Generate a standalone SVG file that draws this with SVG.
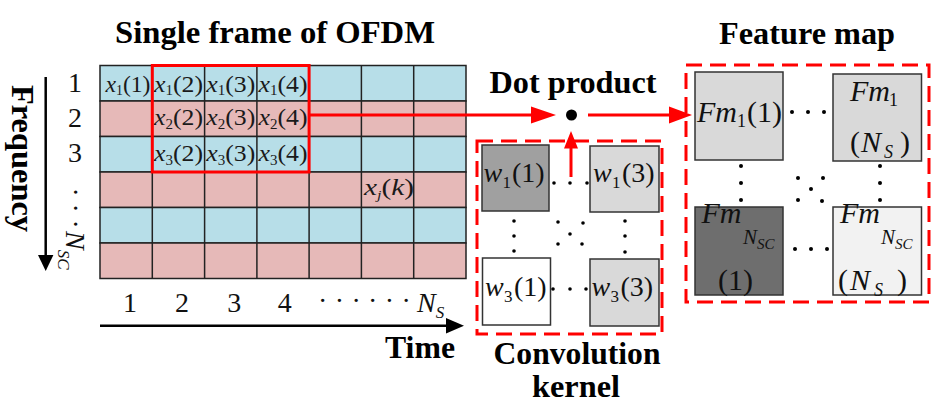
<svg xmlns="http://www.w3.org/2000/svg" width="946" height="410" viewBox="0 0 946 410">
<style>
.bold{font-family:"Liberation Serif",serif;font-weight:bold;font-size:32px;fill:#000}
.num{font-family:"Liberation Serif",serif;font-size:28px;fill:#111}
.cell{font-family:"Liberation Serif",serif;font-size:24px;fill:#1a1a1a;text-anchor:middle}
.big{font-family:"Liberation Serif",serif;font-size:28px;fill:#111}
.fm{font-family:"Liberation Serif",serif;font-size:30px;fill:#111}
.it{font-style:italic}
.blue{fill:#b7dee8;stroke:#222;stroke-width:1.5}
.pink{fill:#e6b9b8;stroke:#222;stroke-width:1.5}
.gl{stroke:#222;stroke-width:1.5}
.box{stroke:#333;stroke-width:1.5}
.dash{fill:none;stroke:#ff0000;stroke-width:3;stroke-dasharray:16 8}
.red{stroke:#ff0000;stroke-width:3;fill:none}
.redf{fill:#ff0000}
.blk{stroke:#000;stroke-width:2.5}
.dot{fill:#000}
</style>

<g id="titles">
<text class="bold" x="275" y="43" text-anchor="middle" textLength="320" lengthAdjust="spacingAndGlyphs">Single frame of OFDM</text>
<text class="bold" x="573" y="93" text-anchor="middle" textLength="167" lengthAdjust="spacingAndGlyphs">Dot product</text>
<text class="bold" x="807" y="44" text-anchor="middle" textLength="176" lengthAdjust="spacingAndGlyphs">Feature map</text>
<text class="bold" x="420" y="358" text-anchor="middle" textLength="70" lengthAdjust="spacingAndGlyphs">Time</text>
<text class="bold" x="577" y="364" text-anchor="middle" textLength="167" lengthAdjust="spacingAndGlyphs">Convolution</text>
<text class="bold" x="576" y="397" text-anchor="middle" textLength="88" lengthAdjust="spacingAndGlyphs">kernel</text>
<text class="bold" transform="translate(12,158.5) rotate(90)" text-anchor="middle" textLength="147" lengthAdjust="spacingAndGlyphs">Frequency</text>
</g>

<g id="ofdm-frame">
<rect class="blue" x="100" y="65.5" width="366" height="35.5"/>
<rect class="pink" x="100" y="101" width="366" height="35.5"/>
<rect class="blue" x="100" y="136.5" width="366" height="35.5"/>
<rect class="pink" x="100" y="172" width="366" height="35.5"/>
<rect class="blue" x="100" y="207.5" width="366" height="35.5"/>
<rect class="pink" x="100" y="243" width="366" height="35.5"/>
<path class="gl" d="M152.3 65.5V278.5M204.6 65.5V278.5M256.9 65.5V278.5M309.1 65.5V278.5M361.4 65.5V278.5M413.7 65.5V278.5"/>
<text class="cell" x="128" y="92" textLength="45" lengthAdjust="spacingAndGlyphs"><tspan class="it">x</tspan><tspan font-size="14" dy="3">1</tspan><tspan dy="-3">(1)</tspan></text>
<text class="cell" x="178.5" y="92" textLength="49" lengthAdjust="spacingAndGlyphs"><tspan class="it">x</tspan><tspan font-size="14" dy="3">1</tspan><tspan dy="-3">(2)</tspan></text>
<text class="cell" x="230.8" y="92" textLength="49" lengthAdjust="spacingAndGlyphs"><tspan class="it">x</tspan><tspan font-size="14" dy="3">1</tspan><tspan dy="-3">(3)</tspan></text>
<text class="cell" x="283" y="92" textLength="49" lengthAdjust="spacingAndGlyphs"><tspan class="it">x</tspan><tspan font-size="14" dy="3">1</tspan><tspan dy="-3">(4)</tspan></text>
<text class="cell" x="178.5" y="125" textLength="49" lengthAdjust="spacingAndGlyphs"><tspan class="it">x</tspan><tspan font-size="14" dy="4">2</tspan><tspan dy="-4">(2)</tspan></text>
<text class="cell" x="230.8" y="125" textLength="49" lengthAdjust="spacingAndGlyphs"><tspan class="it">x</tspan><tspan font-size="14" dy="4">2</tspan><tspan dy="-4">(3)</tspan></text>
<text class="cell" x="283" y="125" textLength="49" lengthAdjust="spacingAndGlyphs"><tspan class="it">x</tspan><tspan font-size="14" dy="4">2</tspan><tspan dy="-4">(4)</tspan></text>
<text class="cell" x="178.5" y="161" textLength="49" lengthAdjust="spacingAndGlyphs"><tspan class="it">x</tspan><tspan font-size="14" dy="4">3</tspan><tspan dy="-4">(2)</tspan></text>
<text class="cell" x="230.8" y="161" textLength="49" lengthAdjust="spacingAndGlyphs"><tspan class="it">x</tspan><tspan font-size="14" dy="4">3</tspan><tspan dy="-4">(3)</tspan></text>
<text class="cell" x="283" y="161" textLength="49" lengthAdjust="spacingAndGlyphs"><tspan class="it">x</tspan><tspan font-size="14" dy="4">3</tspan><tspan dy="-4">(4)</tspan></text>
<text class="cell" x="389" y="195" font-size="22" fill="#333" textLength="50" lengthAdjust="spacingAndGlyphs"><tspan class="it">x</tspan><tspan class="it" font-size="13" dy="4">j</tspan><tspan dy="-4">(</tspan><tspan class="it">k</tspan><tspan>)</tspan></text>
<rect class="red" x="152.3" y="65.5" width="156.8" height="106.5"/>
</g>

<g id="axis-labels">
<text class="num" x="75" y="92" text-anchor="middle">1</text>
<text class="num" x="75" y="127" text-anchor="middle">2</text>
<text class="num" x="75" y="162" text-anchor="middle">3</text>
<text class="num" transform="translate(66,0) rotate(90)"><tspan x="187.5">·</tspan><tspan x="203.5">·</tspan><tspan x="219.5">·</tspan><tspan class="it" x="231">N</tspan><tspan class="it" font-size="17" dy="8">SC</tspan></text>
<text class="num" x="130" y="312" text-anchor="middle">1</text>
<text class="num" x="182" y="312" text-anchor="middle">2</text>
<text class="num" x="234.3" y="312" text-anchor="middle">3</text>
<text class="num" x="284.7" y="312" text-anchor="middle">4</text>
<text class="num" x="318.1 334.8 351.4 368.1 384.8 401.4" y="310">······</text>
<text class="num" x="417" y="312"><tspan class="it">N</tspan><tspan class="it" font-size="17" dy="6">S</tspan></text>
</g>

<g id="kernel">
<rect class="dash" x="477" y="141" width="185" height="193"/>
<g id="w11"><rect class="box" x="482" y="145" width="67" height="66" fill="#a0a0a0"/>
<text class="big" y="182"><tspan class="it" x="483.5">w</tspan><tspan font-size="17" x="502.5" dy="6">1</tspan><tspan x="512" dy="-6">(1)</tspan></text></g>
<g id="w13"><rect class="box" x="590" y="146" width="69" height="66" fill="#d9d9d9"/>
<text class="big" y="182"><tspan class="it" x="593">w</tspan><tspan font-size="17" x="612" dy="6">1</tspan><tspan x="622" dy="-6">(3)</tspan></text></g>
<g id="w31"><rect class="box" x="482.5" y="258" width="68" height="67" fill="#ffffff"/>
<text class="big" y="296"><tspan class="it" x="485">w</tspan><tspan font-size="17" x="504" dy="6">3</tspan><tspan x="514" dy="-6">(1)</tspan></text></g>
<g id="w33"><rect class="box" x="590" y="259" width="69" height="67" fill="#d9d9d9"/>
<text class="big" y="296"><tspan class="it" x="591.5">w</tspan><tspan font-size="17" x="610.5" dy="6">3</tspan><tspan x="620.5" dy="-6">(3)</tspan></text></g>
<g class="dot">
<circle cx="554" cy="183" r="1.8"/><circle cx="570" cy="183" r="1.8"/><circle cx="587" cy="183" r="1.8"/>
<circle cx="514" cy="221" r="1.8"/><circle cx="514" cy="236" r="1.8"/><circle cx="514" cy="251" r="1.8"/>
<circle cx="625" cy="221" r="1.8"/><circle cx="625" cy="236" r="1.8"/><circle cx="625" cy="252" r="1.8"/>
<circle cx="558" cy="222" r="1.8"/><circle cx="583" cy="223" r="1.8"/><circle cx="570" cy="234" r="1.8"/><circle cx="558" cy="244" r="1.8"/><circle cx="582" cy="244" r="1.8"/>
<circle cx="553" cy="289" r="1.8"/><circle cx="570" cy="289" r="1.8"/><circle cx="586" cy="289" r="1.8"/>
</g>
</g>

<g id="feature-map">
<rect class="dash" x="686" y="65" width="243" height="237"/>
<g id="fm11"><rect class="box" x="695" y="72" width="88" height="88" fill="#d9d9d9"/>
<text class="fm" y="122"><tspan class="it" x="697">Fm</tspan><tspan font-size="18" x="737" dy="5">1</tspan><tspan x="747" dy="-5">(1)</tspan></text></g>
<g id="fm1n"><rect class="box" x="833" y="74" width="88.5" height="87" fill="#d9d9d9"/>
<text class="fm" y="101"><tspan class="it" x="850">Fm</tspan><tspan font-size="18" x="889" dy="5">1</tspan></text>
<text class="fm" y="152"><tspan x="850">(</tspan><tspan class="it" x="861">N</tspan><tspan class="it" font-size="18" x="884" dy="6">S</tspan><tspan x="900" dy="-6">)</tspan></text></g>
<g id="fmn1"><rect class="box" x="695" y="207" width="88" height="88" fill="#6e6e6e"/>
<text class="fm" y="223" font-size="31"><tspan class="it" x="701.5">Fm</tspan><tspan class="it" font-size="21" x="743" dy="21">N</tspan><tspan class="it" font-size="15" x="757" dy="5">SC</tspan></text>
<text class="fm" x="718" y="290">(1)</text></g>
<g id="fmnn"><rect class="box" x="833" y="207" width="88.5" height="88" fill="#f2f2f2"/>
<text class="fm" y="223" font-size="31"><tspan class="it" x="840">Fm</tspan><tspan class="it" font-size="21" x="881" dy="21">N</tspan><tspan class="it" font-size="15" x="895" dy="5">SC</tspan></text>
<text class="fm" y="290"><tspan x="838">(</tspan><tspan class="it" x="850">N</tspan><tspan class="it" font-size="18" x="874" dy="6">S</tspan><tspan x="897" dy="-6">)</tspan></text></g>
<g class="dot">
<circle cx="792" cy="112" r="2"/><circle cx="808" cy="112" r="2"/><circle cx="824" cy="112" r="2"/>
<circle cx="741" cy="166" r="2"/><circle cx="741" cy="183" r="2"/><circle cx="741" cy="200" r="2"/>
<circle cx="880" cy="166" r="2"/><circle cx="880" cy="183" r="2"/><circle cx="880" cy="200" r="2"/>
<circle cx="798" cy="178" r="2"/><circle cx="823" cy="178" r="2"/><circle cx="811" cy="189" r="2"/><circle cx="798" cy="200" r="2"/><circle cx="822" cy="201" r="2"/>
<circle cx="795" cy="249" r="2"/><circle cx="811" cy="249" r="2"/><circle cx="827" cy="249" r="2"/>
</g>
</g>

<g id="dot-product">
<circle cx="571.5" cy="115" r="5.5" fill="#000"/>
</g>

<g id="connectors">
<line class="red" x1="309" y1="115" x2="533" y2="115"/>
<polygon class="redf" points="531,106.5 556,115 531,123.5"/>
<line class="red" x1="588" y1="115" x2="671" y2="115"/>
<polygon class="redf" points="669,106.5 692,115 669,123.5"/>
<line class="red" x1="571" y1="177" x2="571" y2="146"/>
<polygon class="redf" points="564,148.5 571,131 578,148.5"/>
<line class="blk" x1="100" y1="325.7" x2="448" y2="325.7"/>
<polygon points="446,318 464,325.7 446,333.4" fill="#000"/>
<line class="blk" x1="45.7" y1="77" x2="45.7" y2="257"/>
<polygon points="38,255 45.7,271 53.4,255" fill="#000"/>
</g>
</svg>
